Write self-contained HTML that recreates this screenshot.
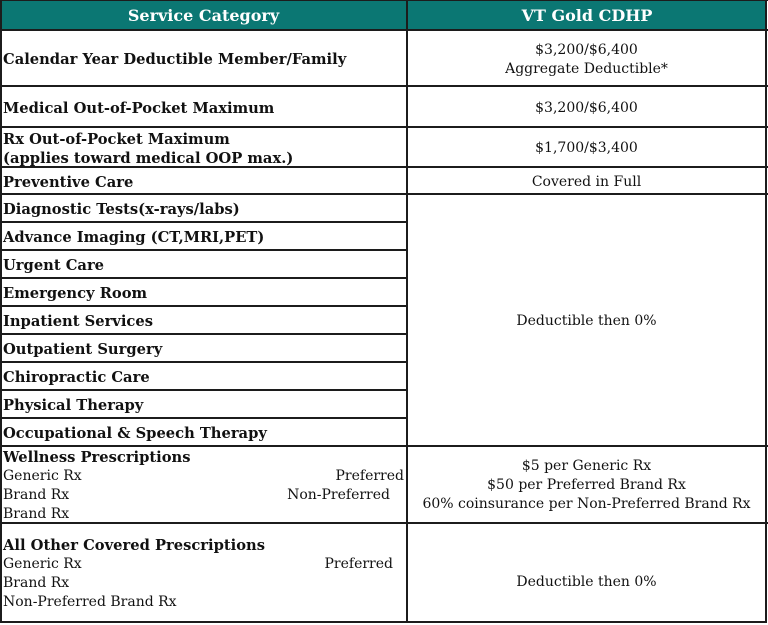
<!DOCTYPE html>
<html><head><meta charset="utf-8"><style>
*{margin:0;padding:0;box-sizing:border-box}
html,body{width:768px;height:625px;background:#fff;overflow:hidden}
#t{position:relative;width:768px;height:625px;font-family:"DejaVu Serif","Liberation Serif",serif;color:#111}
.c{position:absolute;display:flex;flex-direction:column;justify-content:center;padding-top:2px}
.l{left:2px;width:404px;padding-left:1px;font-weight:bold;font-size:14.7px;line-height:19px}
.r{left:408px;width:357px;align-items:center;text-align:center;font-size:14px;line-height:19px}
.hl{position:absolute;height:2px;background:#1c1c1c}
.vl{position:absolute;width:2px;background:#1c1c1c}
.hd{position:absolute;top:0;height:30px;background:#0b7773;color:#fff;font-weight:bold;font-size:16px;display:flex;align-items:center;justify-content:center}
.ln{position:relative;height:19px;font-weight:normal;font-size:14px;white-space:nowrap}
.ln b{font-weight:bold;font-size:14.7px}
.rt{position:absolute;top:0}
</style></head><body><div id="t">
<div class="hd" style="left:0;width:407px">Service Category</div>
<div class="hd" style="left:407px;width:360px">VT Gold CDHP</div>

<div class="c l" style="top:31px;height:55px">Calendar Year Deductible Member/Family</div>
<div class="c r" style="top:31px;height:55px"><div>$3,200/$6,400</div><div>Aggregate Deductible*</div></div>

<div class="c l" style="top:87px;height:40px">Medical Out-of-Pocket Maximum</div>
<div class="c r" style="top:87px;height:40px">$3,200/$6,400</div>

<div class="c l" style="top:128px;height:39px"><div>Rx Out-of-Pocket Maximum</div><div>(applies toward medical OOP max.)</div></div>
<div class="c r" style="top:128px;height:39px">$1,700/$3,400</div>

<div class="c l" style="top:168px;height:26px">Preventive Care</div>
<div class="c r" style="top:168px;height:26px">Covered in Full</div>

<div class="c l" style="top:195px;height:27px">Diagnostic Tests(x-rays/labs)</div>
<div class="c l" style="top:223px;height:27px">Advance Imaging (CT,MRI,PET)</div>
<div class="c l" style="top:251px;height:27px">Urgent Care</div>
<div class="c l" style="top:279px;height:27px">Emergency Room</div>
<div class="c l" style="top:307px;height:27px">Inpatient Services</div>
<div class="c l" style="top:335px;height:27px">Outpatient Surgery</div>
<div class="c l" style="top:363px;height:27px">Chiropractic Care</div>
<div class="c l" style="top:391px;height:27px">Physical Therapy</div>
<div class="c l" style="top:419px;height:27px">Occupational &amp; Speech Therapy</div>
<div class="c r" style="top:195px;height:251px">Deductible then 0%</div>

<div class="c l" style="top:448px;height:75px;justify-content:flex-start;padding-top:0">
<div class="ln"><b>Wellness Prescriptions</b></div>
<div class="ln">Generic Rx<span class="rt" style="right:2px">Preferred</span></div>
<div class="ln">Brand Rx<span class="rt" style="right:16px">Non-Preferred</span></div>
<div class="ln">Brand Rx</div>
</div>
<div class="c r" style="top:447px;height:76px;padding-top:0"><div>$5 per Generic Rx</div><div>$50 per Preferred Brand Rx</div><div>60% coinsurance per Non-Preferred Brand Rx</div></div>

<div class="c l" style="top:524px;height:98px">
<div class="ln"><b>All Other Covered Prescriptions</b></div>
<div class="ln">Generic Rx<span class="rt" style="right:13px">Preferred</span></div>
<div class="ln">Brand Rx</div>
<div class="ln">Non-Preferred Brand Rx</div>
</div>
<div class="c r" style="top:524px;height:98px;padding-top:18px">Deductible then 0%</div>

<!-- lines -->
<div class="hl" style="top:0;left:0;width:768px;height:1px"></div>
<div class="hl" style="top:29px;left:0;width:768px"></div>
<div class="hl" style="top:85px;left:0;width:768px"></div>
<div class="hl" style="top:126px;left:0;width:768px"></div>
<div class="hl" style="top:166px;left:0;width:768px"></div>
<div class="hl" style="top:193px;left:0;width:768px"></div>
<div class="hl" style="top:221px;left:0;width:407px"></div>
<div class="hl" style="top:249px;left:0;width:407px"></div>
<div class="hl" style="top:277px;left:0;width:407px"></div>
<div class="hl" style="top:305px;left:0;width:407px"></div>
<div class="hl" style="top:333px;left:0;width:407px"></div>
<div class="hl" style="top:361px;left:0;width:407px"></div>
<div class="hl" style="top:389px;left:0;width:407px"></div>
<div class="hl" style="top:417px;left:0;width:407px"></div>
<div class="hl" style="top:445px;left:0;width:768px"></div>
<div class="hl" style="top:522px;left:0;width:768px"></div>
<div class="hl" style="top:621px;left:0;width:767px"></div>
<div class="vl" style="left:0;top:0;height:623px"></div>
<div class="vl" style="left:406px;top:0;height:623px"></div>
<div class="vl" style="left:765px;top:0;height:623px"></div>
</div></body></html>
